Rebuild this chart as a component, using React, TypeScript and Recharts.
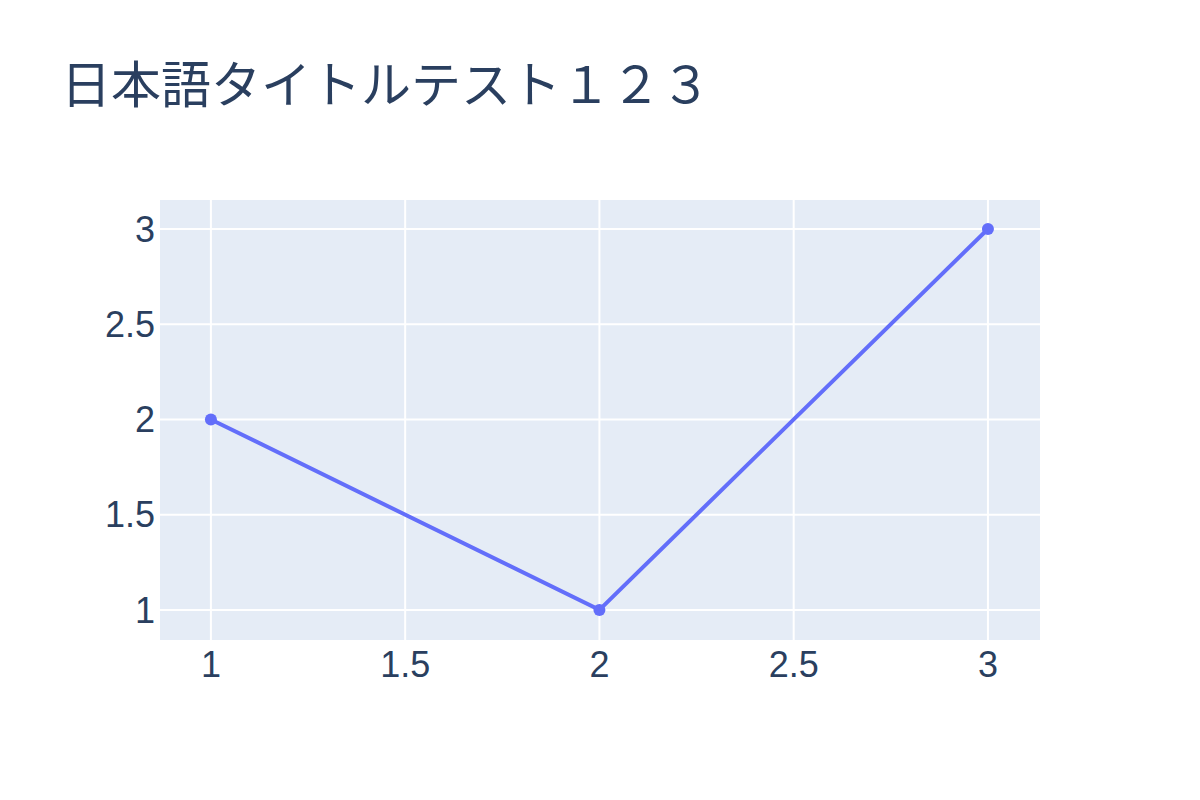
import React from "react";
import { LineChart, Line, XAxis, YAxis, CartesianGrid } from "recharts";

const xValues = [1, 2, 3];
const yValues = [2, 1, 3];
const xTicks = [1, 1.5, 2, 2.5, 3];
const yTicks = [1, 1.5, 2, 2.5, 3];
const title = "日本語タイトルテスト１２３";

const data = xValues.map((x, i) => ({ x, y: yValues[i] }));

const fmt = (v: number) => String(v);
const TITLE_FONT = "'Noto Sans CJK JP', 'Open Sans', sans-serif";
const TICK_FONT = "'Liberation Sans', 'Open Sans', sans-serif";

export default function App() {
  return (
    <div style={{ position: "absolute", left: 0, top: 0, width: 1200, height: 800, background: "#fff" }}>
      <div
        style={{
          position: "absolute",
          left: 61,
          top: 51,
          fontFamily: TITLE_FONT,
          fontSize: 50,
          color: "#2a3f5f",
          whiteSpace: "nowrap",
          lineHeight: 1.2,
        }}
      >
        {title}
      </div>
      <LineChart width={1200} height={800} data={data} margin={{ top: 200, right: 160, bottom: 0, left: 0 }}>
        <CartesianGrid fill="#E5ECF6" stroke="#ffffff" strokeWidth={2} horizontalValues={yTicks} verticalValues={xTicks} />
        <XAxis
          dataKey="x"
          type="number"
          domain={[0.869, 3.134]}
          ticks={xTicks}
          allowDataOverflow
          height={160}
          axisLine={false}
          tickLine={false}
          tickSize={0}
          tickMargin={11}
          tickFormatter={fmt}
          tick={{ fill: "#2a3f5f", fontSize: 36, fontFamily: TICK_FONT }}
        />
        <YAxis
          dataKey="y"
          type="number"
          domain={[0.842, 3.152]}
          ticks={yTicks}
          allowDataOverflow
          width={160}
          axisLine={false}
          tickLine={false}
          tickSize={0}
          tickMargin={5}
          tickFormatter={fmt}
          tick={{ fill: "#2a3f5f", fontSize: 36, fontFamily: TICK_FONT }}
        />
        <Line
          dataKey="y"
          stroke="#636EFA"
          strokeWidth={4}
          dot={{ r: 6, fill: "#636EFA", stroke: "none" }}
          isAnimationActive={false}
        />
      </LineChart>
    </div>
  );
}
